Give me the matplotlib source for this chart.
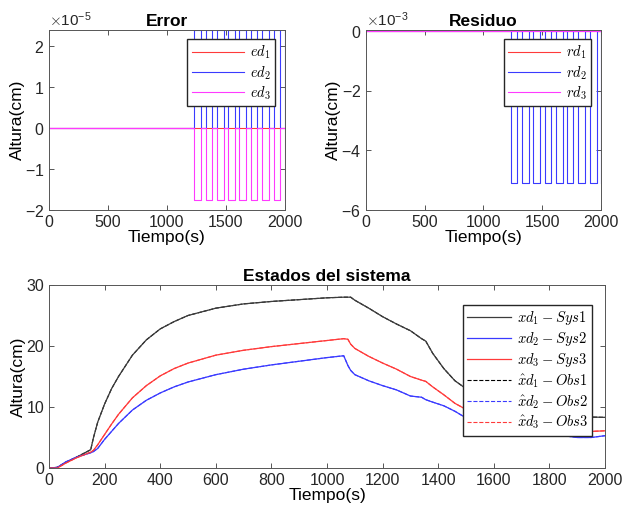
import numpy as np
import matplotlib
matplotlib.use("Agg")
import matplotlib.pyplot as plt
from matplotlib.ticker import ScalarFormatter

plt.rcParams['font.family'] = ['Liberation Sans', 'DejaVu Sans']
plt.rcParams['mathtext.fontset'] = 'cm'
plt.rcParams['xtick.direction'] = 'in'
plt.rcParams['ytick.direction'] = 'in'
plt.rcParams['xtick.top'] = True
plt.rcParams['ytick.right'] = True

# pulse edges (s)
pulse_on = [1232, 1328, 1425, 1522, 1615, 1710, 1806, 1906, 1998]
pulse_off = [1289, 1385, 1482, 1579, 1674, 1767, 1863, 1963, 2000]
ed2_amp = 2.4e-5
ed3_amp = -1.75e-5
rd2_amp = -5.1e-3

# system states
t = [0, 30, 60, 100, 150, 160, 175, 200, 225, 250, 300, 350, 400, 450, 500,
     600, 700, 800, 900, 1000, 1060, 1075, 1085, 1100, 1150, 1200, 1250, 1300,
     1340, 1355, 1380, 1420, 1460, 1500, 1550, 1600, 1650, 1700, 1750, 1800,
     1850, 1900, 1950, 2000]
xd1 = [0, 0.1, 0.9, 1.8, 3.0, 5.0, 7.5, 10.5, 13.0, 15.0, 18.5, 21.0, 22.8, 24.0, 25.0,
       26.2, 26.9, 27.3, 27.6, 27.9, 28.0, 28.0, 28.0, 27.5, 26.2, 24.8, 23.6, 22.5,
       21.2, 20.8, 18.8, 16.3, 14.3, 13.0, 11.8, 10.8, 10.1, 9.6, 9.2, 8.9,
       8.6, 8.45, 8.35, 8.3]
xd2 = [0, 0.1, 1.0, 1.8, 2.5, 2.7, 3.2, 4.7, 6.0, 7.3, 9.5, 11.1, 12.3, 13.3, 14.1,
       15.3, 16.2, 16.9, 17.5, 18.1, 18.4, 16.8, 16.0, 15.3, 14.3, 13.5, 12.8, 11.8,
       11.6, 11.2, 10.8, 10.2, 9.3, 8.2, 7.6, 6.7, 6.4, 5.8, 5.8, 5.5,
       5.3, 5.0, 5.0, 5.3]
xd3 = [0, 0, 0.8, 1.7, 2.6, 2.9, 3.8, 5.5, 7.2, 8.8, 11.5, 13.5, 15.1, 16.3, 17.2,
       18.5, 19.3, 19.9, 20.4, 20.9, 21.2, 21.1, 20.3, 19.6, 18.3, 17.2, 16.2, 15.0,
       14.4, 14.2, 13.3, 12.0, 10.6, 9.6, 8.8, 8.0, 7.6, 7.0, 6.8, 6.5,
       6.3, 6.2, 6.0, 6.1]

BLUE = '#3a3aff'
RED = '#ff3a3a'
MAG = '#ff3aff'
GRAY = '#3c3c3c'


def pulse_series(amp):
    tt = [0]
    yy = [0]
    for a, b in zip(pulse_on, pulse_off):
        tt += [a, a, b, b]
        yy += [0, amp, amp, 0 if b < 2000 else amp]
    if tt[-1] < 2000:
        tt.append(2000)
        yy.append(0)
    return np.array(tt), np.array(yy)


def style_axes(ax):
    for s in ax.spines.values():
        s.set_color('#555555')
        s.set_linewidth(0.7)
    ax.tick_params(labelsize=11.5, colors='#555555', labelcolor='#262626',
                   length=3.5, width=0.7)
    ax.yaxis.get_offset_text().set_fontsize(11)
    ax.yaxis.get_offset_text().set_color('#262626')


leg_kw = dict(fancybox=False, edgecolor='#262626', framealpha=1, borderpad=0.3,
              handletextpad=0.4)

fig = plt.figure(figsize=(6.22, 5.16), dpi=100)

# Error
ax1 = fig.add_axes([0.0788, 0.593, 0.379, 0.349])
te, e2 = pulse_series(ed2_amp)
_, e3 = pulse_series(ed3_amp)
ax1.plot([0, 2000], [0, 0], color=RED, lw=0.8, label='$ed_1$')
ax1.plot(te, e2, color=BLUE, lw=0.8, label='$ed_2$')
ax1.plot(te, e3, color=MAG, lw=0.8, label='$ed_3$')
ax1.plot([0, 1232], [0, 0], color=MAG, lw=0.8)
ax1.set_xlim(0, 2000)
ax1.set_ylim(-2e-5, 2.4e-5)
ax1.set_yticks([-2e-5, -1e-5, 0, 1e-5, 2e-5])
fmt = ScalarFormatter(useMathText=True)
fmt.set_powerlimits((0, 0))
ax1.yaxis.set_major_formatter(fmt)
ax1.set_title('Error', fontsize=12.5, fontweight='bold', pad=3)
ax1.set_xlabel('Tiempo(s)', fontsize=12.5, labelpad=0)
ax1.set_ylabel('Altura(cm)', fontsize=12.5, labelpad=0)
ax1.legend(loc='upper right', fontsize=10.5, borderaxespad=0.65,
           handlelength=3.6, labelspacing=0.2, **leg_kw)
style_axes(ax1)

# Residuo
ax2 = fig.add_axes([0.588, 0.593, 0.378, 0.349])
tr, r2 = pulse_series(rd2_amp)
ax2.plot([0, 2000], [0, 0], color=RED, lw=0.8, label='$rd_1$')
ax2.plot(tr, r2, color=BLUE, lw=0.8, label='$rd_2$')
ax2.plot([0, 2000], [0, 0], color=MAG, lw=0.8, label='$rd_3$')
ax2.set_xlim(0, 2000)
ax2.set_ylim(-6e-3, 0.05e-3)
ax2.set_yticks([-6e-3, -4e-3, -2e-3, 0])
fmt2 = ScalarFormatter(useMathText=True)
fmt2.set_powerlimits((0, 0))
ax2.yaxis.set_major_formatter(fmt2)
ax2.set_title('Residuo', fontsize=12.5, fontweight='bold', pad=3)
ax2.set_xlabel('Tiempo(s)', fontsize=12.5, labelpad=0)
ax2.set_ylabel('Altura(cm)', fontsize=12.5, labelpad=0)
ax2.legend(loc='upper right', fontsize=10.5, borderaxespad=0.65,
           handlelength=3.6, labelspacing=0.2, **leg_kw)
style_axes(ax2)

# Estados del sistema
ax3 = fig.add_axes([0.0788, 0.093, 0.894, 0.3547])
ax3.plot(t, xd1, color='k', lw=0.8, ls='--', label=r'$\hat{x}d_1-Obs1$')
ax3.plot(t, xd2, color=BLUE, lw=0.8, ls='--', label=r'$\hat{x}d_2-Obs2$')
ax3.plot(t, xd3, color=RED, lw=0.8, ls='--', label=r'$\hat{x}d_3-Obs3$')
ax3.plot(t, xd1, color=GRAY, lw=0.9, label=r'$xd_1-Sys1$')
ax3.plot(t, xd2, color=BLUE, lw=0.9, label=r'$xd_2-Sys2$')
ax3.plot(t, xd3, color=RED, lw=0.9, label=r'$xd_3-Sys3$')
ax3.set_xlim(0, 2000)
ax3.set_ylim(0, 30)
ax3.set_xticks(range(0, 2001, 200))
ax3.set_yticks([0, 10, 20, 30])
ax3.set_title('Estados del sistema', fontsize=12.5, fontweight='bold', pad=3)
ax3.set_xlabel('Tiempo(s)', fontsize=12.5, labelpad=0)
ax3.set_ylabel('Altura(cm)', fontsize=12.5, labelpad=0)
h, l = ax3.get_legend_handles_labels()
order = [3, 4, 5, 0, 1, 2]
ax3.legend([h[i] for i in order], [l[i] for i in order], loc='upper right',
           bbox_to_anchor=(0.99, 0.93), fontsize=10.5, handlelength=3.0,
           labelspacing=0.2, **leg_kw)
style_axes(ax3)

fig.savefig('out.png', dpi=100)
